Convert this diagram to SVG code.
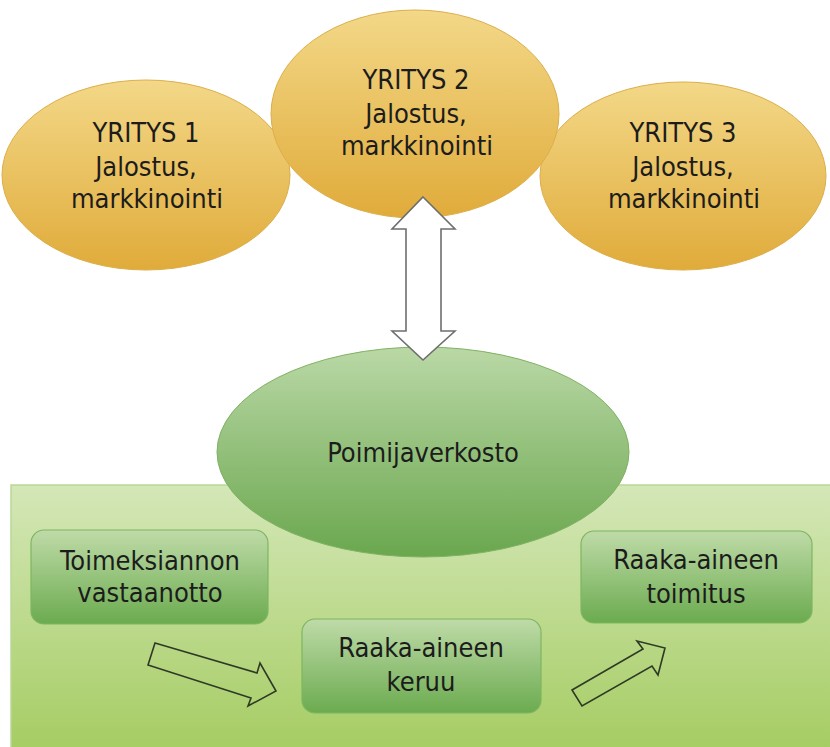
<svg xmlns="http://www.w3.org/2000/svg" width="830" height="747" viewBox="0 0 830 747">
  <defs>
    <linearGradient id="gold" x1="0" y1="0" x2="0" y2="1">
      <stop offset="0" stop-color="#f3d888"/>
      <stop offset="1" stop-color="#e0ab3a"/>
    </linearGradient>
    <linearGradient id="greenOval" x1="0" y1="0" x2="0" y2="1">
      <stop offset="0" stop-color="#bad8a6"/>
      <stop offset="1" stop-color="#6aa74e"/>
    </linearGradient>
    <linearGradient id="greenBox" x1="0" y1="0" x2="0" y2="1">
      <stop offset="0" stop-color="#bfdba8"/>
      <stop offset="1" stop-color="#6bab4f"/>
    </linearGradient>
    <linearGradient id="field" x1="0" y1="0" x2="0" y2="1">
      <stop offset="0" stop-color="#d4e7b8"/>
      <stop offset="1" stop-color="#a3cb5e"/>
    </linearGradient>
  </defs>
  <style>
    text { font-family: "DejaVu Sans Condensed", "DejaVu Sans", sans-serif; font-stretch: condensed; font-size: 27px; fill: #1c1c1c; text-anchor: middle; }
    .company { fill: url(#gold); stroke: #dcae4a; stroke-width: 1; }
    .hub { fill: url(#greenOval); stroke: #7fb262; stroke-width: 1; }
    .step { fill: url(#greenBox); stroke: #7db660; stroke-width: 1.2; }
    .flow { fill: none; stroke: #2e3a26; stroke-width: 1.6; stroke-linejoin: miter; }
    .link { fill: #ffffff; stroke: #6e6e6e; stroke-width: 1.6; }
  </style>

  <rect width="830" height="747" fill="#ffffff"/>

  <!-- green process field -->
  <g id="process-area">
    <rect x="11" y="485" width="830" height="280" fill="url(#field)" stroke="#b9d896" stroke-width="1.5"/>
  </g>

  <!-- companies -->
  <g id="yritys1">
    <ellipse class="company" cx="146" cy="175" rx="144" ry="95"/>
    <text x="146" y="142">YRITYS 1</text>
    <text x="146" y="176">Jalostus,</text>
    <text x="147" y="208">markkinointi</text>
  </g>
  <g id="yritys3">
    <ellipse class="company" cx="683" cy="176" rx="143" ry="94"/>
    <text x="683" y="142">YRITYS 3</text>
    <text x="683" y="176">Jalostus,</text>
    <text x="684" y="208">markkinointi</text>
  </g>
  <g id="yritys2">
    <ellipse class="company" cx="415" cy="114" rx="144" ry="104"/>
    <text x="416" y="89">YRITYS 2</text>
    <text x="416" y="123">Jalostus,</text>
    <text x="417" y="155">markkinointi</text>
  </g>

  <!-- collector network -->
  <g id="poimijaverkosto">
    <ellipse class="hub" cx="423" cy="452" rx="206" ry="105"/>
    <text x="423" y="462">Poimijaverkosto</text>
  </g>

  <!-- process steps -->
  <g id="toimeksiannon-vastaanotto">
    <rect class="step" x="31" y="530" width="237" height="94" rx="13"/>
    <text x="150" y="570">Toimeksiannon</text>
    <text x="150" y="602">vastaanotto</text>
  </g>
  <g id="raaka-aineen-keruu">
    <rect class="step" x="302" y="619" width="239" height="94" rx="13"/>
    <text x="421" y="657">Raaka-aineen</text>
    <text x="421" y="691">keruu</text>
  </g>
  <g id="raaka-aineen-toimitus">
    <rect class="step" x="581" y="531" width="231" height="92" rx="13"/>
    <text x="696" y="569">Raaka-aineen</text>
    <text x="696" y="603">toimitus</text>
  </g>

  <!-- connectors -->
  <g id="connectors">
    <polygon class="link" points="423,197 455,229 441,229 441,331 455,331 423,360 392,331 406,331 406,229 392,229"/>
    <polygon class="flow" points="155,643 257,673 260,663 276,691 248,706 251,698 148,665"/>
    <polygon class="flow" points="572,690 643,649 637,641 665,648 658,675 652,666 582,706"/>
  </g>
</svg>
